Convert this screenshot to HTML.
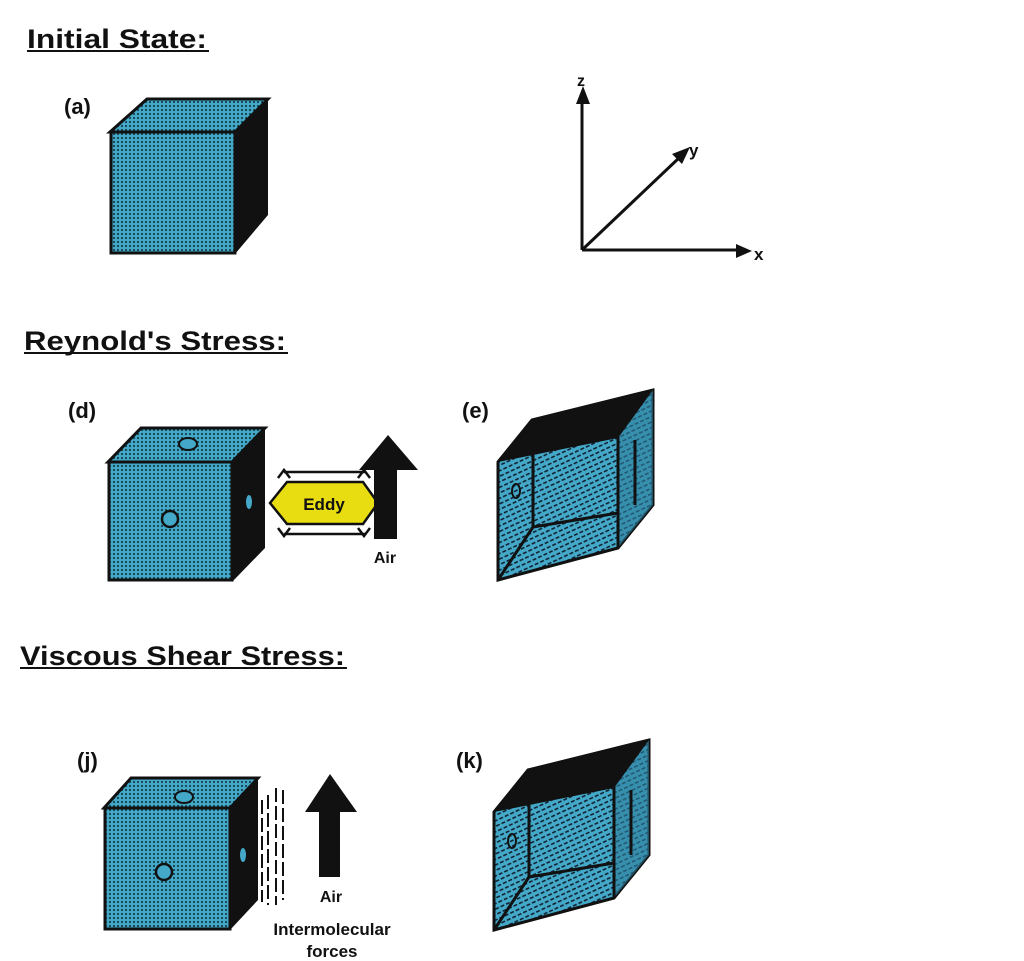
<!DOCTYPE html>
<html><head><meta charset="utf-8"><style>
html,body{margin:0;padding:0;background:#fff;}
svg{display:block;}
text{font-family:"Liberation Sans",sans-serif;font-weight:bold;fill:#111;}
</style></head><body>
<svg width="1024" height="961" viewBox="0 0 1024 961" xmlns="http://www.w3.org/2000/svg">
<defs>
<pattern id="dots" width="4" height="4" patternUnits="userSpaceOnUse">
<rect width="4" height="4" fill="#44a9c8"/><circle cx="2" cy="2" r="1.1" fill="#13404e"/>
</pattern>
<pattern id="dash" width="6" height="5" patternUnits="userSpaceOnUse" patternTransform="rotate(-25)">
<rect width="6" height="5" fill="#44a9c8"/><rect x="0" y="2" width="4" height="1.6" fill="#123"/>
</pattern>
</defs>
<!-- headers -->
<text x="27" y="48" font-size="27" textLength="180" lengthAdjust="spacingAndGlyphs">Initial State:</text>
<rect x="27" y="50" width="182" height="2" fill="#111"/>
<text x="24" y="350" font-size="27" textLength="262" lengthAdjust="spacingAndGlyphs">Reynold's Stress:</text>
<rect x="24" y="352" width="264" height="2" fill="#111"/>
<text x="20" y="665" font-size="27" textLength="325" lengthAdjust="spacingAndGlyphs">Viscous Shear Stress:</text>
<rect x="20" y="667" width="327" height="2" fill="#111"/>

<!-- labels -->
<text x="64" y="114" font-size="22">(a)</text>
<text x="68" y="418" font-size="22">(d)</text>
<text x="462" y="418" font-size="22">(e)</text>
<text x="77" y="768" font-size="22">(j)</text>
<text x="456" y="768" font-size="22">(k)</text>

<!-- cube a -->
<polygon points="110,132 147,99 268,99 235,132" fill="url(#dots)" stroke="#111" stroke-width="3"/>
<polygon points="235,132 268,99 268,215 235,254" fill="#111"/>
<rect x="111" y="132" width="124" height="121" fill="url(#dots)" stroke="#111" stroke-width="3"/>

<!-- axes -->
<g stroke="#111" stroke-width="3" fill="none">
<line x1="582" y1="250" x2="582" y2="100"/>
<line x1="582" y1="250" x2="738" y2="250"/>
<line x1="582" y1="250" x2="680" y2="157"/>
</g>
<polygon points="583,86 576,104 590,104" fill="#111"/>
<polygon points="752,251 736,244 736,258" fill="#111"/>
<polygon points="690,147 672,154 682,164" fill="#111"/>
<text x="577" y="86" font-size="16">z</text>
<text x="689" y="156" font-size="17">y</text>
<text x="754" y="260" font-size="17">x</text>

<!-- cube d -->
<polygon points="108,462 141,428 265,428 232,462" fill="url(#dots)" stroke="#111" stroke-width="3"/>
<polygon points="232,462 265,428 265,548 232,582" fill="#111"/>
<rect x="109" y="462" width="123" height="118" fill="url(#dots)" stroke="#111" stroke-width="3"/>
<ellipse cx="188" cy="444" rx="9" ry="6" fill="#44a9c8" stroke="#111" stroke-width="2"/>
<circle cx="170" cy="519" r="8" fill="#44a9c8" stroke="#111" stroke-width="2.5"/>
<ellipse cx="249" cy="502" rx="3" ry="7" fill="#44a9c8"/>

<!-- eddy -->
<polygon points="270,503 287,482 363,482 378,503 363,524 287,524" fill="#e8dd10" stroke="#111" stroke-width="2.5"/>
<text x="324" y="510" font-size="17" text-anchor="middle">Eddy</text>
<g stroke="#111" stroke-width="2.5" fill="none">
<polyline points="278,478 284,470 290,478"/><line x1="284" y1="472" x2="366" y2="472"/>
<polyline points="358,478 364,470 370,478"/>
<polyline points="278,528 284,536 290,528"/><line x1="284" y1="534" x2="366" y2="534"/>
<polyline points="358,528 364,536 370,528"/>
</g>
<!-- air arrow d -->
<polygon points="388,435 359,470 374,470 374,539 397,539 397,470 418,470" fill="#111"/>
<text x="385" y="563" font-size="16" text-anchor="middle">Air</text>

<!-- prism e -->
<g id="prism">
<polygon points="498,462 532,420 653,390 653,505 618,548 498,580" fill="url(#dash)" stroke="#111" stroke-width="3"/>
<polygon points="618,438 653,390 653,505 618,548" fill="#2f7f9c" opacity="0.6"/>
<polygon points="498,462 532,420 653,390 618,438 533,455" fill="#111"/>
<g stroke="#111" stroke-width="3" fill="none">
<line x1="533" y1="455" x2="533" y2="527"/>
<line x1="533" y1="527" x2="618" y2="513"/>
<line x1="618" y1="436" x2="618" y2="548"/>
<line x1="498" y1="580" x2="533" y2="527"/>
<line x1="635" y1="505" x2="635" y2="440"/>
</g>
<ellipse cx="516" cy="491" rx="4" ry="7" fill="none" stroke="#111" stroke-width="2"/>
</g>
<use href="#prism" transform="translate(-4,350)"/>

<!-- cube j -->
<polygon points="104,808 131,778 258,778 230,808" fill="url(#dots)" stroke="#111" stroke-width="3"/>
<polygon points="230,808 258,778 258,900 230,930" fill="#111"/>
<rect x="105" y="808" width="125" height="121" fill="url(#dots)" stroke="#111" stroke-width="3"/>
<ellipse cx="184" cy="797" rx="9" ry="6" fill="#44a9c8" stroke="#111" stroke-width="2"/>
<circle cx="164" cy="872" r="8" fill="#44a9c8" stroke="#111" stroke-width="2.5"/>
<ellipse cx="243" cy="855" rx="3" ry="7" fill="#44a9c8"/>

<!-- dashed lines -->
<g stroke="#111" stroke-width="2" stroke-dasharray="14,4">
<line x1="262" y1="800" x2="262" y2="902"/>
<line x1="268" y1="795" x2="268" y2="905"/>
<line x1="276" y1="788" x2="276" y2="905"/>
<line x1="283" y1="790" x2="283" y2="900"/>
</g>
<!-- air arrow j -->
<polygon points="330,774 305,812 319,812 319,877 340,877 340,812 357,812" fill="#111"/>
<text x="331" y="902" font-size="16" text-anchor="middle">Air</text>
<text x="332" y="935" font-size="17" text-anchor="middle">Intermolecular</text>
<text x="332" y="957" font-size="17" text-anchor="middle">forces</text>
</svg>
</body></html>
